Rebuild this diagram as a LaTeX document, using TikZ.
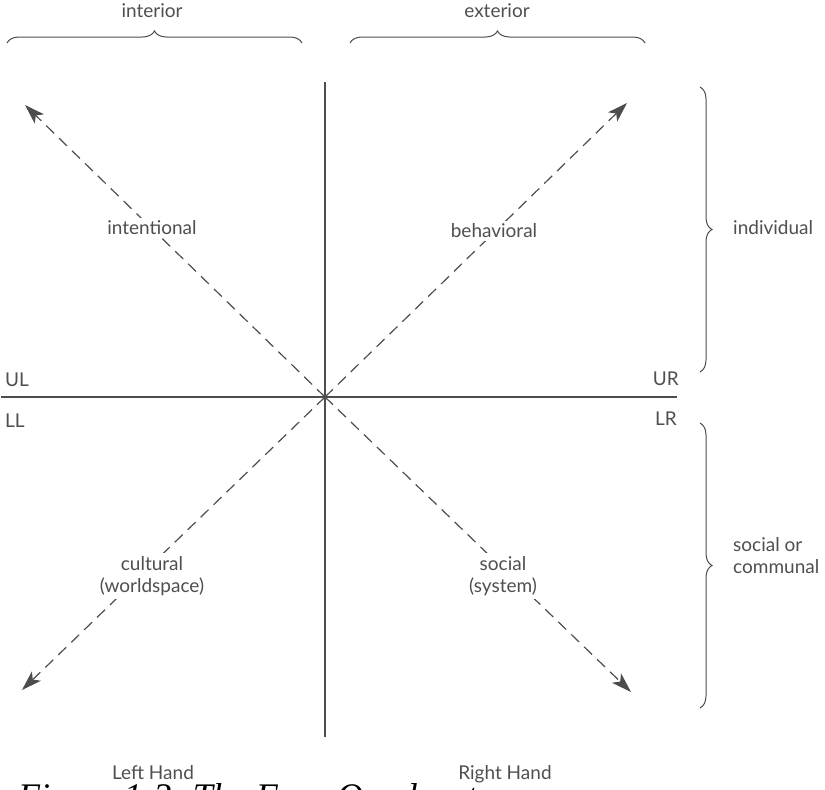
\documentclass[tikz,border=0pt]{standalone}
\usepackage{fontspec}
\setmainfont{Lato}
\newfontfamily\capfont{Liberation Serif}
\usetikzlibrary{arrows.meta,decorations.pathreplacing}
\definecolor{ink}{HTML}{4D4D4D}
\definecolor{txt}{HTML}{4F4F4F}
\tikzset{
  axis/.style={draw=ink, line width=1.3pt},
  diag/.style={draw=ink, line width=1.2pt, dash pattern=on 11pt off 7pt, -{Stealth[length=20pt,width=13pt,inset=5pt]}},
  lbl/.style={text=txt, font=\fontsize{19}{22}\selectfont, inner sep=2pt},
  dlbl/.style={lbl, fill=white, align=center, inner sep=3pt},
  brc/.style={draw=ink, line width=1pt, decorate, decoration={brace, amplitude=12pt}}
}
\begin{document}
\begin{tikzpicture}[x=1pt,y=-1pt]
\useasboundingbox (0,0) rectangle (825,790);
% axes
\coordinate (O) at (325,397);
\coordinate (vt) at (325,82);
\coordinate (vb) at (325,737);
\coordinate (hl) at (1,397);
\coordinate (hr) at (677,397);
\draw[axis] (vt) -- (vb);
\draw[axis] (hl) -- (hr);
% arrow tips
\coordinate (ul) at (25,105);
\coordinate (ur) at (627,103);
\coordinate (ll) at (22,690);
\coordinate (lr) at (631,692);
\draw[diag] (O) -- (ul);
\draw[diag] (O) -- (ur);
\draw[diag] (O) -- (ll);
\draw[diag] (O) -- (lr);
% diagonal labels
\node[dlbl] (intl) at (152,228) {intentional};
\node[dlbl] (behv) at (494,231) {behavioral};
\node[dlbl] (cult) at (152,576) {cultural\\(worldspace)};
\node[dlbl] (soc) at (503,576) {social\\(system)};
% corner labels
\node[lbl, anchor=base west] (UL) at (3,386) {UL};
\node[lbl, anchor=base west] (LL) at (3,427) {LL};
\node[lbl, anchor=base east] (UR) at (681,385) {UR};
\node[lbl, anchor=base east] (LR) at (679,425) {LR};
% top braces
\coordinate (ib1) at (7,43);
\coordinate (ib2) at (302,43);
\coordinate (eb1) at (350,43);
\coordinate (eb2) at (645,43);
\draw[brc] (ib1) -- (ib2);
\draw[brc] (eb1) -- (eb2);
\node[lbl, anchor=base] (int) at (152,17) {interior};
\node[lbl, anchor=base] (ext) at (497,17) {exterior};
% right braces
\coordinate (rb1) at (700,87);
\coordinate (rb2) at (700,372);
\coordinate (rb3) at (700,423);
\coordinate (rb4) at (700,708);
\draw[brc] (rb1) -- (rb2);
\draw[brc] (rb3) -- (rb4);
\node[lbl, anchor=west] (ind) at (731,228) {individual};
\node[lbl, anchor=west, align=left] (com) at (731,556) {social or\\communal};
% bottom labels
\node[lbl, anchor=base] (lh) at (153,779) {Left Hand};
\node[lbl, anchor=base] (rh) at (505,779) {Right Hand};
% caption (cut off by the lower edge, as in the reference)
\node[anchor=base west, inner sep=0pt, font=\capfont\itshape\fontsize{36}{40}\selectfont] (cap) at (18,808) {Figure 1-3. The Four Quadrants};
\end{tikzpicture}
\end{document}
